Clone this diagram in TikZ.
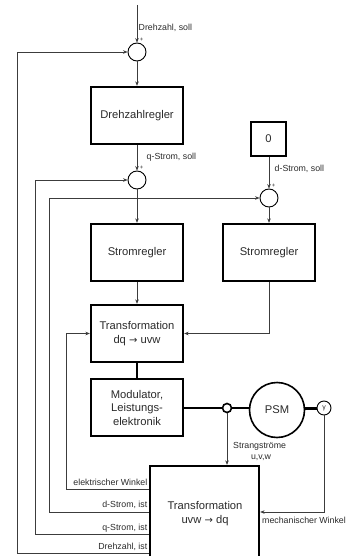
\documentclass[tikz,border=0pt]{standalone}
\usepackage{fontspec}
\setmainfont{Liberation Sans}
\newfontfamily\arrfont{DejaVu Sans}
\usetikzlibrary{arrows.meta}
\definecolor{ln}{HTML}{3C3C3C}
\definecolor{tx}{HTML}{2A2A2A}
\newcommand{\rarr}{{\arrfont\fontsize{10}{12}\selectfont →}}
\tikzset{
  blk/.style={draw=black, line width=2.3pt, minimum width=92pt, minimum height=57pt, inner sep=0pt, align=center, font=\fontsize{11.2}{13.5}\selectfont, text=tx},
  sumc/.style={draw=black, line width=0.9pt, circle, minimum size=18pt, inner sep=0pt},
  thin/.style={draw=ln, line width=0.7pt},
  arr/.style={thin, -{Stealth[length=4.5pt,width=3.6pt]}},
  thk/.style={draw=black, line width=2pt},
  lbl/.style={font=\fontsize{8.8}{10.5}\selectfont, text=tx, inner sep=0pt},
  pls/.style={font=\fontsize{6}{6}\selectfont, text=tx, inner sep=0pt}
}
\begin{document}
\begin{tikzpicture}[x=1pt,y=-1pt]
\useasboundingbox (0,0) rectangle (360,556);
\clip (0,0) rectangle (360,556);
% nodes
\coordinate (in) at (137,5);
\node[sumc] (sn) at (137,52) {};
\node[blk] (dr) at (137,115.5) {Drehzahlregler};
\node[blk, minimum width=35pt, minimum height=34pt] (z) at (268.5,139) {0};
\node[sumc] (sq) at (137,180) {};
\node[sumc] (sd) at (269,198) {};
\node[blk] (srl) at (137,252.5) {Stromregler};
\node[blk] (srr) at (269,252.5) {Stromregler};
\node[blk] (ta) at (137,333.5) {Transformation\\dq \rarr{} uvw};
\node[blk] (mod) at (137,407.5) {Modulator,\\Leistungs-\\elektronik};
\node[draw=black, line width=1.6pt, circle, minimum size=9pt, inner sep=0pt] (o) at (227,408) {};
\node[draw=black, line width=1.6pt, circle, minimum size=55pt, inner sep=0pt, font=\fontsize{11.2}{13.5}\selectfont, text=tx] (psm) at (277,410) {PSM};
\node[draw=black, line width=0.9pt, circle, minimum size=14pt, inner sep=0pt, font=\fontsize{7}{8}\selectfont, text=tx] (g) at (324,408) {γ};
\node[blk, minimum width=109pt, minimum height=114pt] (tb) at (204.5,523) {};
\node[font=\fontsize{11.2}{13.5}\selectfont, text=tx, align=center, inner sep=0pt] (tbt) at (205,513.5) {Transformation\\uvw \rarr{} dq};
% forward path
\draw[arr] (in) -- (sn.north);
\draw[arr] (sn.south) -- (dr.north);
\draw[arr] (dr.south) -- (sq.north);
\draw[arr] (sq.south) -- (srl.north);
\draw[arr] (z.south -| sd.north) -- (sd.north);
\draw[arr] (sd.south) -- (srr.north);
\draw[arr] (srl.south) -- (ta.north);
\draw[arr] (srr.south) |- (ta.east);
\draw[thk] (ta.south) -- (mod.north);
\draw[thk] (mod.east |- o.west) -- (o.west);
\draw[thk] (o.east) -- (psm.west |- o.east);
\draw[draw=black, line width=3pt] (psm.east |- g.west) -- (g.west);
\draw[arr] (o.south) -- (o.south |- tb.north);
\draw[arr] (g.south) |- (tb.east |- 0,512);
% feedback
\draw[arr] (tb.west |- 0,489) -- (66,489) |- (ta.west);
\draw[arr] (tb.west |- 0,512) -- (49,512) |- (sd.west);
\draw[arr] (tb.west |- 0,534) -- (35,534) |- (sq.west);
\draw[arr] (tb.west |- 0,553) -- (17,553) |- (sn.west);
% plus signs
\node[pls] (p1) at (141.5,40) {+};
\node[pls] (p2) at (141.5,168) {+};
\node[pls] (p3) at (273.5,186) {+};
% labels
\node[lbl, anchor=west] (l1) at (138.5,28) {Drehzahl, soll};
\node[lbl, anchor=west] (l2) at (146.5,157) {q-Strom, soll};
\node[lbl, anchor=west] (l3) at (274.5,169) {d-Strom, soll};
\node[lbl, anchor=west] (l4) at (233,446) {Strangströme};
\node[lbl] (l5) at (261,457.5) {u,v,w};
\node[lbl, anchor=west] (l6) at (262,520) {mechanischer Winkel};
\node[lbl, anchor=east] (l7) at (147.5,482) {elektrischer Winkel};
\node[lbl, anchor=east] (l8) at (147.5,505) {d-Strom, ist};
\node[lbl, anchor=east] (l9) at (147.5,528) {q-Strom, ist};
\node[lbl, anchor=east] (l10) at (147.5,547) {Drehzahl, ist};
\end{tikzpicture}
\end{document}
